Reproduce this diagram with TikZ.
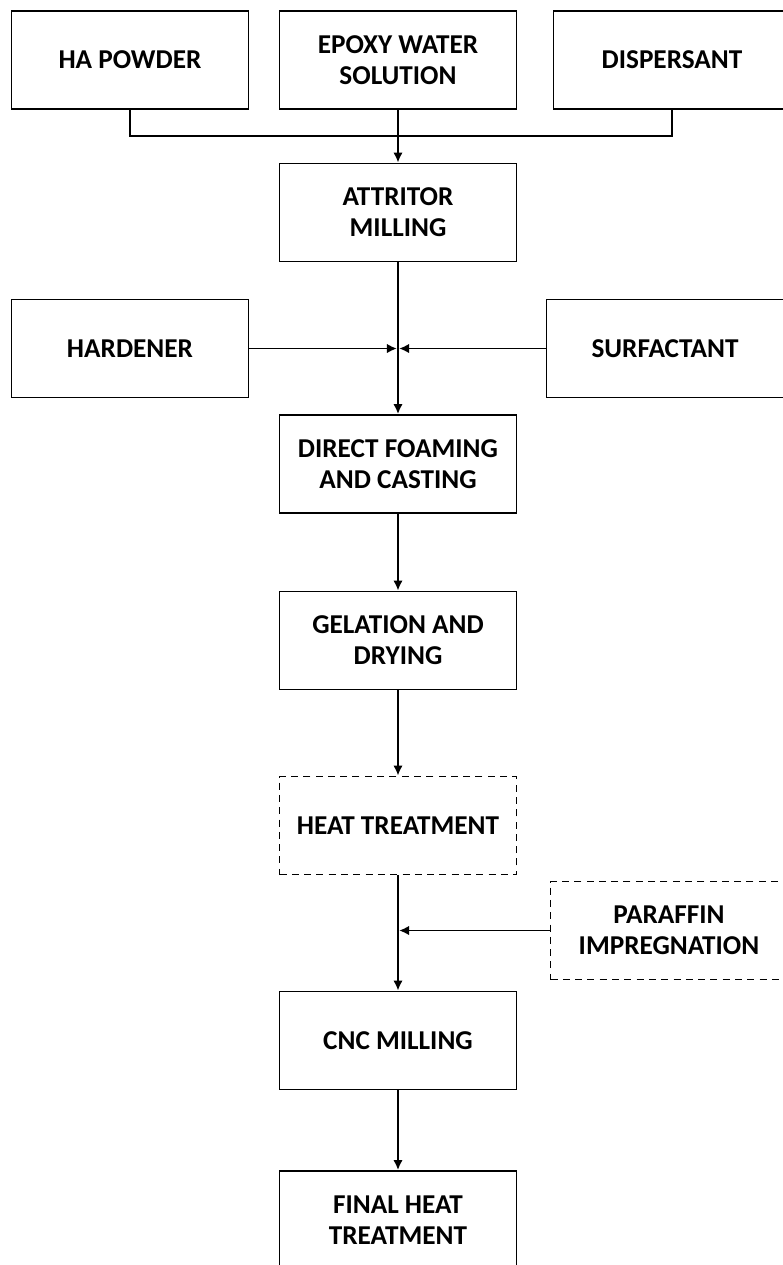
\documentclass[tikz,border=0pt]{standalone}
\usepackage{fontspec}
\setmainfont{Carlito}
\usetikzlibrary{arrows.meta}

\tikzset{
  stage/.style={draw, line width=1.1pt, minimum width=4.74cm, minimum height=1.96cm,
    inner sep=0pt, align=center, font=\bfseries\fontsize{15.5}{17.5}\selectfont},
  optstage/.style={stage, dash pattern=on 4pt off 3pt},
  flow/.style={-{Latex[length=2mm,width=1.9mm]}, line width=1.1pt},
  link/.style={line width=1.1pt}
}

\begin{document}
\begin{tikzpicture}[x=0.02cm, y=-0.02cm]
      \useasboundingbox (0,0) rectangle (782,1265);

      % Nodes
      \node[stage] (ha) at (130, 60) {HA POWDER};
      \node[stage] (epoxy) at (398, 60) {EPOXY WATER\\SOLUTION};
      \node[stage] (disp) at (672, 60) {DISPERSANT};
      \node[stage] (attr) at (398, 212.5) {ATTRITOR\\MILLING};
      \node[stage] (hard) at (130, 348.5) {HARDENER};
      \node[stage] (surf) at (665, 348.5) {SURFACTANT};
      \node[stage] (foam) at (398, 464) {DIRECT FOAMING\\AND CASTING};
      \node[stage] (gel) at (398, 640.5) {GELATION AND\\DRYING};
      \node[optstage] (heat) at (398, 825.5) {HEAT TREATMENT};
      \node[optstage] (para) at (669, 930.5) {PARAFFIN\\IMPREGNATION};
      \node[stage] (cnc) at (398, 1040.5) {CNC MILLING};
      \node[stage] (final) at (398, 1220) {FINAL HEAT\\TREATMENT};

      \coordinate (join) at (398, 136);
      \coordinate (mixa) at (398, 348.5);
      \coordinate (mixb) at (398, 930.5);

      % Connectors
      \draw[link] (ha.south) |- (join) -| (disp.south);
      \draw[flow] (epoxy) -- (attr);
      \draw[flow] (attr) -- (foam);
      \draw[flow] (hard.east) -- ([xshift=-0.6pt]mixa);
      \draw[flow] (surf.west) -- ([xshift=0.6pt]mixa);
      \draw[flow] (foam) -- (gel);
      \draw[flow] (gel) -- (heat);
      \draw[flow] (heat) -- (cnc);
      \draw[flow] (para.west) -- ([xshift=0.6pt]mixb);
      \draw[flow] (cnc) -- (final);
\end{tikzpicture}
\end{document}
